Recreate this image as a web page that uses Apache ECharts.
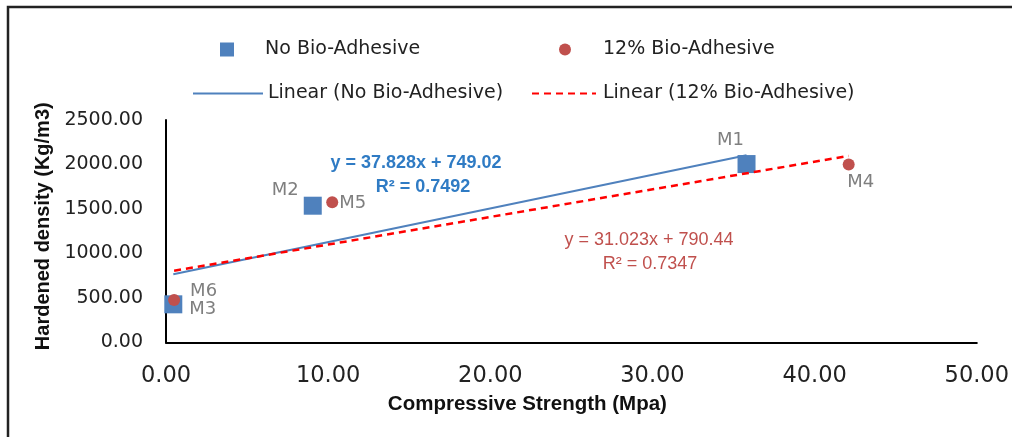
<!DOCTYPE html>
<html>
<head>
<meta charset="utf-8">
<script src="https://cdn.jsdelivr.net/npm/echarts@6/dist/echarts.min.js"></script>
<style>
  html, body { margin: 0; padding: 0; background: #fff; }
  #chart { width: 1012px; height: 437px; }
</style>
</head>
<body>
<div id="chart"></div>
<script>
const noBioStrength = [35.8, 9.05, 0.45]
const noBioDensity = [2005, 1537, 429]
const noBioNames = ['M1', 'M2', 'M3']
const bioStrength = [42.1, 10.25, 0.5]
const bioDensity = [2000, 1575, 477]
const bioNames = ['M4', 'M5', 'M6']
// excel trendline coefficients as printed on the chart
const trendSlope = [37.828, 31.023]
const trendIntercept = [749.02, 790.44]
const trendR2 = ['0.7492', '0.7347']
const xTicks = [0, 10, 20, 30, 40, 50]
const yTicks = [0, 500, 1000, 1500, 2000, 2500]

const BLUE = '#4F81BD'
const RED_PT = '#C0504D'
const RED_LINE = '#FF0000'
const FONT = '"Liberation Sans", sans-serif'
const WIDE = '"DejaVu Sans", sans-serif'

const labelSpot = {
  M1: { position: 'top', offset: [-16, -1] },
  M2: { position: 'left', offset: [0, -15] },
  M3: { position: 'right', offset: [2, 5] },
  M4: { position: 'bottom', offset: [12, -2] },
  M5: { position: 'right', offset: [-4, 1] },
  M6: { position: 'right', offset: [5, -9] }
}

function points (xs, ys, names) {
  return xs.map((x, i) => ({
    value: [x, ys[i]],
    name: names[i],
    label: labelSpot[names[i]]
  }))
}

function trend (xs, k) {
  const lo = Math.min(...xs)
  const hi = Math.max(...xs)
  return [lo, hi].map(x => [x, trendSlope[k] * x + trendIntercept[k]])
}

const pointLabel = {
  show: true,
  formatter: p => p.name,
  color: '#7F7F7F',
  fontSize: 18,
  fontFamily: WIDE
}

function legendItem (left, top, name, icon, w, h, pad) {
  const lg = {
    left: left,
    top: top,
    itemWidth: w,
    itemHeight: h,
    selectedMode: false,
    data: [{ name: name, icon: icon }],
    textStyle: { fontSize: 19, color: '#222', fontFamily: WIDE, padding: [0, 0, 0, pad] }
  }
  // trendline entries: line only, no marker
  if (!icon) lg.itemStyle = { opacity: 0 }
  return lg
}

const chart = echarts.init(document.getElementById('chart'))
chart.setOption({
  animation: false,
  grid: { left: 166, right: 33, top: 120, bottom: 94.5 },
  legend: [
    legendItem(215, 35, 'No Bio-Adhesive', 'rect', 14, 14, 26),
    legendItem(554, 35, '12% Bio-Adhesive', 'circle', 12, 12, 27),
    legendItem(187, 79, 'Linear (No Bio-Adhesive)', undefined, 70, 14, 0),
    legendItem(526, 79, 'Linear (12% Bio-Adhesive)', undefined, 64, 14, 2)
  ],
  xAxis: {
    type: 'value',
    min: xTicks[0],
    max: xTicks[xTicks.length - 1],
    interval: xTicks[1] - xTicks[0],
    name: 'Compressive Strength (Mpa)',
    nameLocation: 'middle',
    nameGap: 51,
    nameTextStyle: { fontSize: 20.5, fontWeight: 'bold', color: '#111', fontFamily: FONT, padding: [0, 88, 0, 0] },
    axisLine: { lineStyle: { color: '#000', width: 2 } },
    axisTick: { show: false },
    splitLine: { show: false },
    axisLabel: {
      margin: 22,
      fontSize: 22.5,
      color: '#222',
      fontFamily: WIDE,
      formatter: v => v.toFixed(2)
    }
  },
  yAxis: {
    type: 'value',
    min: yTicks[0],
    max: yTicks[yTicks.length - 1],
    interval: yTicks[1] - yTicks[0],
    name: 'Hardened density (Kg/m3)',
    nameLocation: 'middle',
    nameGap: 108,
    nameTextStyle: { fontSize: 20, fontWeight: 'bold', color: '#111', fontFamily: FONT, padding: [0, 0, 0, 10] },
    axisLine: { show: true, lineStyle: { color: '#000', width: 2 } },
    axisTick: { show: false },
    splitLine: { show: false },
    axisLabel: {
      margin: 23,
      fontSize: 19,
      color: '#222',
      fontFamily: WIDE,
      formatter: v => v.toFixed(2)
    }
  },
  series: [
    {
      name: 'Linear (No Bio-Adhesive)',
      type: 'line',
      data: trend(noBioStrength, 0),
      symbol: 'none',
      lineStyle: { color: BLUE, width: 2 },
      itemStyle: { color: BLUE },
      z: 1
    },
    {
      name: 'Linear (12% Bio-Adhesive)',
      type: 'line',
      data: trend(bioStrength, 1),
      symbol: 'none',
      lineStyle: { color: RED_LINE, width: 2.5, type: [7, 5] },
      itemStyle: { color: RED_LINE },
      z: 3
    },
    {
      name: 'No Bio-Adhesive',
      type: 'scatter',
      symbol: 'rect',
      symbolSize: 18,
      data: points(noBioStrength, noBioDensity, noBioNames),
      itemStyle: { color: BLUE, opacity: 1 },
      label: pointLabel,
      z: 2
    },
    {
      name: '12% Bio-Adhesive',
      type: 'scatter',
      symbol: 'circle',
      symbolSize: 12,
      data: points(bioStrength, bioDensity, bioNames),
      itemStyle: { color: RED_PT, opacity: 1 },
      label: pointLabel,
      z: 4
    }
  ],
  graphic: [
    {
      type: 'rect',
      shape: { x: 8, y: 7, width: 1200, height: 600 },
      style: { fill: 'none', stroke: '#222', lineWidth: 2.5 },
      silent: true
    },
    {
      type: 'text',
      x: 416, y: 163,
      style: {
        text: 'y = ' + trendSlope[0] + 'x + ' + trendIntercept[0].toFixed(2),
        fill: '#2F7BC4', font: 'bold 18px ' + FONT, align: 'center', verticalAlign: 'middle'
      }
    },
    {
      type: 'text',
      x: 423, y: 187,
      style: {
        text: 'R² = ' + trendR2[0],
        fill: '#2F7BC4', font: 'bold 18px ' + FONT, align: 'center', verticalAlign: 'middle'
      }
    },
    {
      type: 'text',
      x: 649, y: 240,
      style: {
        text: 'y = ' + trendSlope[1] + 'x + ' + trendIntercept[1].toFixed(2),
        fill: RED_PT, font: '18px ' + FONT, align: 'center', verticalAlign: 'middle'
      }
    },
    {
      type: 'text',
      x: 650, y: 264,
      style: {
        text: 'R² = ' + trendR2[1],
        fill: RED_PT, font: '18px ' + FONT, align: 'center', verticalAlign: 'middle'
      }
    }
  ]
})
</script>
</body>
</html>
